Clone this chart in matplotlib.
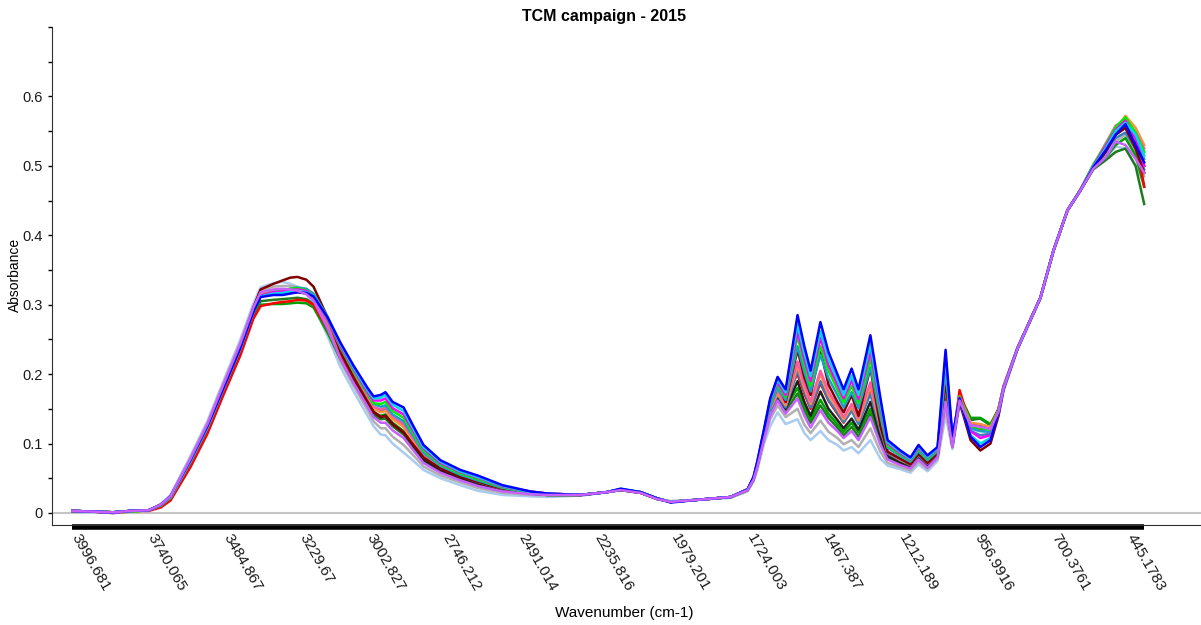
import numpy as np
import matplotlib
matplotlib.use("Agg")
import matplotlib.pyplot as plt
import matplotlib.transforms as mtransforms
from matplotlib.ticker import MultipleLocator, FixedLocator

plt.rcParams['font.family'] = ['Liberation Sans', 'DejaVu Sans']

wavenumber = [3997, 3930, 3860, 3800, 3740, 3700, 3667, 3600, 3543, 3489,
              3432, 3388, 3364, 3321, 3290, 3264, 3240, 3210, 3186, 3139,
              3095, 3051, 3004, 2984, 2960, 2944, 2920, 2883, 2850, 2816,
              2759, 2692, 2634, 2550, 2456, 2399, 2288, 2200, 2153, 2086,
              2030, 1985, 1894, 1783, 1726, 1706, 1693, 1672, 1650, 1625,
              1598, 1558, 1535, 1514, 1481, 1454, 1424, 1403, 1376, 1353,
              1313, 1279, 1255, 1212, 1178, 1151, 1121, 1087, 1060, 1037,
              1013, 976, 943, 909, 882, 865, 818, 741, 697, 650,
              606, 563, 522, 488, 455, 421, 392]

tick_labels = ["3996.681", "3740.065", "3484.867", "3229.67", "3002.827",
               "2746.212", "2491.014", "2235.816", "1979.201", "1724.003",
               "1467.387", "1212.189", "956.9916", "700.3761", "445.1783"]

# one absorbance list per sample, same order as wavenumber
lightblue = [.002, .001, .000, .002, .004, .013, .026, .082, .132, .190,
             .250, .302, .325, .331, .333, .330, .326, .316, .300, .255,
             .210, .175, .140, .125, .113, .112, .100, .087, .075, .062,
             .050, .040, .032, .026, .024, .023, .025, .030, .033, .029,
             .020, .017, .019, .022, .031, .045, .062, .098, .125, .145,
             .128, .135, .115, .105, .118, .105, .098, .090, .095, .086,
             .105, .078, .068, .063, .058, .070, .060, .075, .140, .092,
             .155, .120, .118, .115, .140, .175, .235, .310, .378, .436,
             .465, .495, .510, .528, .525, .500, .475]
grey = [.003, .002, .001, .003, .004, .012, .025, .080, .130, .187,
        .246, .298, .320, .326, .327, .327, .325, .320, .308, .262,
        .218, .183, .148, .132, .122, .122, .110, .098, .083, .067,
        .054, .044, .036, .029, .026, .025, .025, .030, .033, .029,
        .020, .017, .019, .022, .032, .047, .065, .102, .135, .155,
        .138, .150, .127, .115, .133, .117, .108, .099, .105, .095,
        .122, .088, .072, .066, .061, .074, .063, .078, .150, .094,
        .160, .128, .128, .122, .146, .180, .237, .310, .378, .436,
        .465, .496, .515, .535, .545, .520, .485]
darkgreen = [.003, .002, .001, .003, .004, .010, .021, .072, .121, .177,
             .235, .287, .305, .307, .308, .309, .310, .308, .301, .262,
             .222, .188, .155, .141, .135, .136, .125, .113, .094, .075,
             .060, .049, .041, .033, .028, .026, .026, .030, .033, .029,
             .020, .016, .019, .023, .033, .048, .068, .106, .143, .165,
             .147, .172, .148, .130, .155, .137, .123, .112, .124, .110,
             .143, .103, .079, .070, .065, .078, .066, .081, .165, .096,
             .168, .134, .136, .126, .149, .181, .237, .310, .378, .436,
             .465, .495, .508, .520, .525, .500, .445]
green = [.003, .002, .000, .002, .004, .010, .021, .072, .120, .175,
         .232, .284, .300, .301, .301, .302, .303, .302, .296, .260,
         .222, .190, .158, .145, .140, .142, .130, .118, .098, .078,
         .062, .050, .042, .034, .028, .026, .026, .030, .034, .030,
         .021, .016, .019, .023, .033, .049, .069, .108, .148, .172,
         .152, .180, .155, .135, .163, .143, .128, .117, .130, .116,
         .150, .108, .082, .072, .066, .080, .068, .082, .170, .096,
         .170, .137, .137, .128, .150, .182, .238, .310, .378, .436,
         .466, .497, .512, .530, .540, .515, .470]
black = [.003, .002, .001, .003, .004, .011, .023, .075, .124, .180,
         .238, .290, .312, .316, .317, .318, .318, .316, .309, .270,
         .228, .193, .160, .145, .138, .140, .128, .116, .097, .077,
         .061, .050, .042, .033, .028, .026, .026, .030, .033, .029,
         .020, .016, .019, .023, .033, .049, .069, .108, .145, .168,
         .150, .190, .160, .140, .175, .150, .134, .122, .136, .120,
         .160, .110, .082, .072, .066, .080, .068, .082, .175, .097,
         .165, .128, .126, .122, .148, .180, .237, .310, .378, .436,
         .465, .498, .520, .545, .555, .530, .500]
red = [.003, .002, .001, .003, .003, .008, .018, .066, .114, .170,
       .227, .280, .298, .302, .304, .305, .307, .306, .300, .265,
       .228, .196, .165, .152, .146, .150, .138, .127, .104, .082,
       .066, .054, .046, .037, .031, .028, .026, .030, .034, .029,
       .021, .016, .019, .023, .034, .050, .072, .115, .162, .195,
       .170, .200, .172, .150, .187, .162, .143, .130, .148, .130,
       .174, .120, .086, .076, .069, .084, .071, .086, .185, .100,
       .177, .125, .120, .122, .150, .183, .238, .310, .378, .436,
       .466, .500, .530, .548, .560, .540, .470]
steelblue = [.003, .002, .001, .003, .004, .011, .023, .075, .124, .180,
             .238, .291, .314, .319, .320, .321, .322, .320, .313, .276,
             .235, .200, .166, .151, .147, .150, .137, .126, .105, .083,
             .066, .053, .045, .035, .029, .027, .026, .030, .034, .030,
             .021, .016, .019, .023, .033, .050, .070, .109, .148, .170,
             .152, .205, .175, .152, .190, .163, .145, .131, .147, .128,
             .172, .118, .086, .076, .069, .083, .071, .085, .182, .099,
             .163, .118, .112, .114, .145, .180, .237, .310, .378, .436,
             .465, .498, .522, .540, .548, .525, .495]
orange = [.003, .002, .000, .002, .004, .011, .023, .075, .125, .181,
          .240, .292, .315, .320, .321, .322, .322, .319, .311, .272,
          .232, .198, .165, .150, .145, .147, .135, .124, .103, .082,
          .065, .053, .045, .035, .029, .027, .026, .030, .034, .030,
          .021, .016, .019, .023, .033, .050, .070, .110, .150, .172,
          .155, .212, .180, .157, .200, .170, .150, .135, .153, .133,
          .182, .123, .088, .077, .070, .085, .072, .086, .190, .100,
          .168, .130, .128, .124, .148, .182, .238, .310, .378, .436,
          .466, .500, .525, .552, .572, .555, .530]
pink = [.003, .002, .001, .003, .004, .011, .022, .074, .123, .179,
        .237, .290, .313, .318, .320, .321, .322, .319, .312, .274,
        .234, .200, .167, .153, .149, .152, .139, .128, .107, .085,
        .067, .054, .046, .036, .029, .027, .026, .030, .034, .030,
        .021, .016, .019, .023, .034, .050, .071, .111, .152, .176,
        .158, .218, .185, .160, .205, .175, .154, .138, .157, .137,
        .188, .127, .089, .078, .071, .087, .074, .087, .193, .101,
        .168, .127, .124, .121, .148, .181, .238, .310, .378, .436,
        .466, .501, .532, .558, .566, .548, .525]
darkred = [.003, .002, .001, .003, .004, .011, .022, .074, .124, .182,
           .241, .296, .322, .330, .335, .339, .340, .336, .326, .282,
           .232, .195, .160, .146, .138, .140, .128, .116, .098, .080,
           .064, .052, .045, .035, .029, .027, .026, .030, .034, .030,
           .021, .016, .019, .023, .034, .050, .071, .111, .155, .185,
           .160, .235, .195, .170, .235, .185, .160, .145, .170, .140,
           .209, .125, .088, .078, .070, .085, .072, .086, .190, .100,
           .160, .105, .090, .100, .140, .178, .237, .310, .378, .436,
           .465, .497, .520, .545, .555, .525, .490]
teal = [.003, .002, .001, .003, .004, .011, .022, .073, .122, .178,
        .236, .289, .312, .318, .320, .323, .325, .323, .316, .283,
        .243, .207, .172, .157, .153, .155, .142, .132, .110, .087,
        .068, .055, .047, .036, .029, .027, .026, .030, .034, .030,
        .021, .016, .019, .023, .034, .050, .071, .112, .153, .180,
        .163, .240, .203, .175, .228, .194, .170, .152, .174, .151,
        .210, .139, .094, .082, .074, .089, .076, .089, .205, .104,
        .165, .122, .118, .117, .146, .180, .237, .310, .378, .436,
        .465, .500, .527, .553, .568, .545, .510]
lime = [.003, .002, .001, .002, .004, .011, .022, .074, .123, .179,
        .237, .290, .313, .319, .321, .323, .324, .321, .314, .279,
        .238, .204, .171, .158, .157, .160, .147, .137, .114, .090,
        .070, .057, .049, .037, .029, .027, .026, .030, .034, .030,
        .021, .016, .019, .023, .034, .051, .072, .114, .157, .185,
        .167, .255, .213, .183, .240, .205, .178, .159, .183, .158,
        .222, .146, .097, .084, .076, .092, .078, .091, .214, .106,
        .168, .125, .122, .120, .148, .181, .238, .310, .378, .436,
        .466, .502, .530, .556, .570, .548, .520]
magenta = [.003, .002, .000, .003, .004, .012, .023, .075, .124, .180,
           .238, .291, .313, .318, .319, .321, .322, .320, .313, .280,
           .240, .207, .174, .162, .162, .165, .151, .142, .118, .093,
           .072, .059, .051, .038, .030, .028, .026, .030, .034, .030,
           .021, .016, .019, .023, .034, .051, .073, .115, .160, .188,
           .170, .262, .221, .190, .252, .213, .185, .165, .191, .164,
           .233, .152, .100, .086, .077, .094, .080, .092, .220, .108,
           .166, .118, .108, .112, .146, .180, .237, .310, .378, .436,
           .465, .500, .528, .552, .565, .540, .500]
cyan = [.003, .002, .001, .003, .004, .012, .023, .075, .124, .180,
        .238, .290, .312, .316, .317, .319, .320, .318, .313, .282,
        .243, .209, .177, .165, .166, .170, .156, .147, .121, .095,
        .074, .060, .052, .039, .030, .028, .026, .030, .035, .030,
        .021, .016, .019, .023, .034, .051, .074, .117, .162, .192,
        .174, .272, .230, .197, .262, .222, .192, .170, .198, .170,
        .243, .158, .102, .088, .078, .096, .081, .093, .225, .108,
        .164, .112, .100, .108, .145, .180, .237, .310, .378, .436,
        .465, .499, .525, .550, .562, .545, .515]
blue = [.003, .002, .001, .003, .004, .012, .024, .076, .125, .180,
        .238, .290, .311, .314, .314, .316, .318, .317, .312, .282,
        .245, .212, .180, .168, .170, .174, .160, .152, .125, .098,
        .076, .062, .054, .040, .031, .028, .026, .030, .035, .030,
        .021, .015, .019, .023, .034, .052, .075, .118, .165, .196,
        .178, .285, .240, .205, .275, .232, .200, .178, .208, .178,
        .256, .165, .105, .090, .080, .098, .083, .095, .235, .110,
        .165, .110, .095, .105, .145, .180, .237, .310, .378, .436,
        .465, .498, .522, .545, .560, .530, .505]
violet = [.003, .002, .001, .003, .004, .012, .024, .078, .128, .185,
          .244, .296, .318, .322, .323, .322, .320, .315, .306, .266,
          .222, .187, .153, .138, .130, .130, .119, .108, .090, .072,
          .058, .047, .039, .031, .027, .026, .026, .030, .033, .029,
          .020, .016, .019, .023, .033, .048, .067, .104, .140, .162,
          .143, .165, .140, .123, .148, .130, .118, .108, .118, .105,
          .138, .098, .077, .069, .064, .077, .065, .080, .160, .095,
          .162, .126, .124, .121, .146, .180, .237, .310, .378, .436,
          .465, .496, .512, .535, .530, .510, .490]

spectra = [
    (lightblue, "#a9cbf0"), (grey, "#b0b0b0"), (darkgreen, "#1e7b1e"),
    (green, "#00a000"), (black, "#202020"), (red, "#ff0000"),
    (steelblue, "#3a7fc0"), (orange, "#ff9040"), (pink, "#ff5aa0"),
    (darkred, "#800000"), (teal, "#1aa0c8"), (lime, "#00ee00"),
    (magenta, "#ff00ff"), (cyan, "#00d8e8"), (blue, "#0000ff"),
    (violet, "#c860ff"),
]

fig = plt.figure(figsize=(12.01, 6.25), dpi=100)
ax = fig.add_axes([52 / 1201, 100 / 625, 1149 / 1201, 498 / 625])

for values, colour in spectra:
    ax.plot(wavenumber, values, color=colour, lw=1.8, solid_joinstyle="round")

ax.axhline(0, color="#c4c4c4", lw=1.5, zorder=0)

ax.set_xlim(4065.6, 200.9)
ax.set_ylim(-0.0173, 0.7)

# thick bar under the data range
ax.plot([wavenumber[0], wavenumber[-1]], [-0.004, -0.004], color="black", lw=4,
        solid_capstyle="butt", transform=ax.get_xaxis_transform(), clip_on=False)

ax.xaxis.set_major_locator(FixedLocator([float(t) for t in tick_labels]))
ax.set_xticklabels(tick_labels, rotation=-60, ha="left", va="top",
                   rotation_mode="anchor", fontsize=11, color="#1a1a1a")
ax.tick_params(axis="x", length=0, pad=5)
shift = mtransforms.ScaledTranslation(8 / 100, 0, fig.dpi_scale_trans)
for lab in ax.get_xticklabels():
    lab.set_transform(lab.get_transform() + shift)

ax.yaxis.set_major_locator(FixedLocator([0, 0.1, 0.2, 0.3, 0.4, 0.5, 0.6]))
ax.set_yticklabels(["0", "0.1", "0.2", "0.3", "0.4", "0.5", "0.6"],
                   fontsize=10.5, color="#1a1a1a")
ax.yaxis.set_minor_locator(MultipleLocator(0.05))
ax.tick_params(axis="y", which="both", length=3, width=1, pad=4)

for side in ["top", "right"]:
    ax.spines[side].set_visible(False)
ax.spines["left"].set_color("#303030")
ax.spines["bottom"].set_color("#303030")

fig.text(0.503, 0.973, "TCM campaign - 2015", ha="center", va="center",
         fontsize=11.5, fontweight="bold")
fig.text(0.0125, 0.56, "Absorbance", rotation=90, ha="center", va="center",
         fontsize=10)
fig.text(0.52, 0.02, "Wavenumber (cm-1)", ha="center", va="center", fontsize=11)

fig.savefig("out.png", dpi=100)
